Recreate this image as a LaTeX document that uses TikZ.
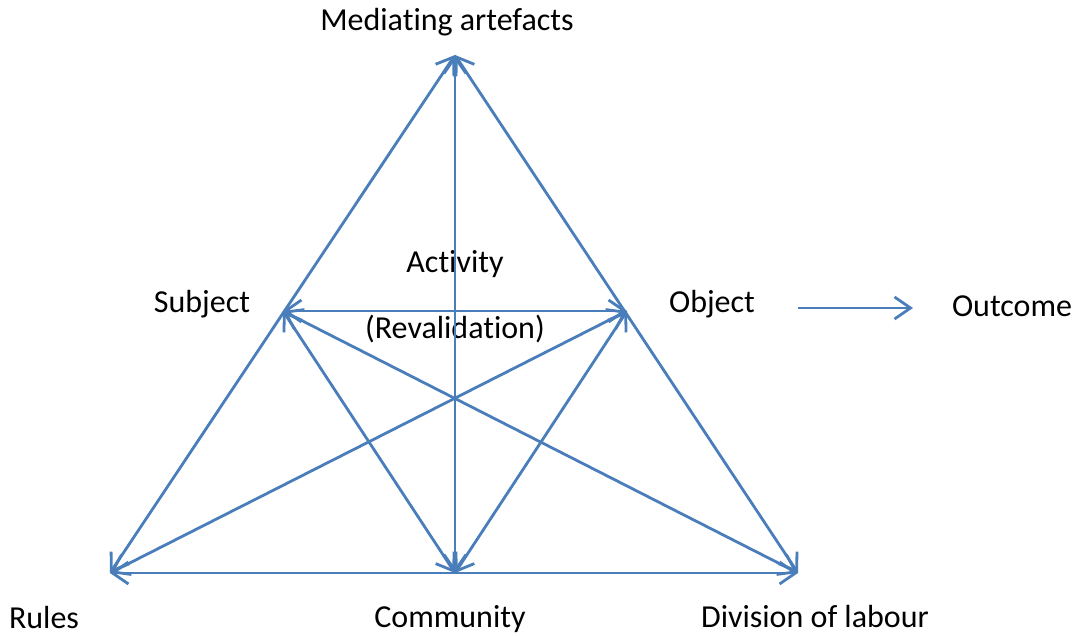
\documentclass[tikz,border=0pt]{standalone}
\usepackage{fontspec}
\setmainfont[Ligatures=NoCommon]{Carlito}
\usetikzlibrary{arrows.meta}

\definecolor{linkblue}{HTML}{4A7EBB}

\tikzset{
  link/.style={draw=linkblue,line width=2.8pt,{Straight Barb[length=16pt,width=22pt]}-{Straight Barb[length=16pt,width=22pt]}},
  oneway/.style={draw=linkblue,line width=2.8pt,-{Straight Barb[length=16pt,width=22pt]}},
  lbl/.style={font=\fontsize{32}{38}\selectfont,inner sep=0pt}
}

\begin{document}
\begin{tikzpicture}[x=1pt,y=-1pt]
  \useasboundingbox (0,0) rectangle (1075,636);
  % corners of the triangle
  \coordinate (M) at (455,55);
  \coordinate (S) at (283,311);
  \coordinate (O) at (627,311);
  \coordinate (R) at (110,573);
  \coordinate (C) at (455,573);
  \coordinate (D) at (798,573);
  \coordinate (outstart) at (798,308);
  \coordinate (outend) at (913,308);

  % labels
  \node[lbl] (mediating) at (447,22) {Mediating artefacts};
  \node[lbl] (subject) at (202,304) {Subject};
  \node[lbl] (object) at (712,304) {Object};
  \node[lbl] (outcome) at (1012,306) {Outcome};
  \node[lbl] (activity) at (455,264) {Activity};
  \node[lbl] (revalidation) at (455,329) {(Revalidation)};
  \node[lbl] (rules) at (44,618) {Rules};
  \node[lbl] (community) at (450,619) {Community};
  \node[lbl] (division) at (815,617) {Division of labour};

  % connectors
  \foreach \a/\b in {M/R,M/D,M/C,R/D,S/O,S/C,S/D,O/R,O/C}
    \draw[link] (\a) -- (\b);
  \draw[oneway] (outstart) -- (outend);
\end{tikzpicture}
\end{document}
